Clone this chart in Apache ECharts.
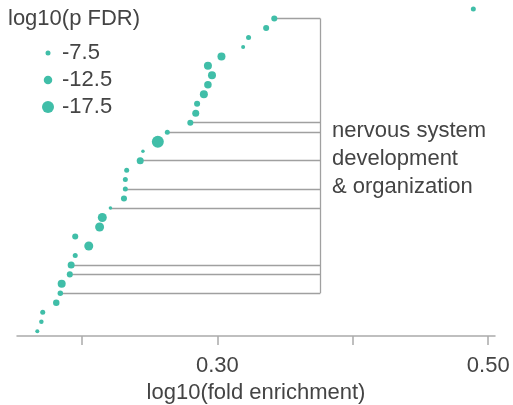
<!DOCTYPE html>
<html>
<head>
<meta charset="utf-8">
<script src="https://cdn.jsdelivr.net/npm/echarts@6/dist/echarts.min.js"></script>
<style>
  html, body { margin: 0; padding: 0; background: #fff; }
  #chart { width: 513px; height: 405px; }
</style>
</head>
<body>
<div id="chart"></div>
<script>
// terms ranked top to bottom
var ranks = [];
for (var i = 1; i <= 35; i++) ranks.push(i);
// log10(fold enrichment)
var foldEnrich = [0.489, 0.342, 0.336, 0.323, 0.319, 0.303, 0.293, 0.296, 0.293, 0.290,
    0.285, 0.284, 0.280, 0.263, 0.256, 0.245, 0.243, 0.233, 0.232, 0.232,
    0.231, 0.221, 0.215, 0.213, 0.195, 0.205, 0.195, 0.192, 0.191, 0.185,
    0.184, 0.181, 0.171, 0.170, 0.167];
// log10(p FDR)
var logFdr = [-7.5, -9.0, -9.0, -7.5, -6.1, -11.8, -11.8, -11.8, -11.1, -11.8,
    -9.0, -10.4, -9.0, -7.5, -17.5, -5.4, -10.4, -7.5, -7.5, -7.5,
    -9.0, -5.4, -13.2, -13.2, -9.0, -13.2, -7.5, -10.4, -9.0, -11.8,
    -8.2, -9.6, -7.5, -6.8, -6.1];
var legendValues = [-7.5, -12.5, -17.5];
// terms belonging to "nervous system development & organization"
var groupRanks = [2, 13, 14, 17, 20, 22, 28, 29, 31];
var groupLabel = 'nervous system\ndevelopment\n& organization';
var bracketX = 0.376;
var xTicks = [0.2, 0.3, 0.4, 0.5];
var xLabels = [0.3, 0.5];

var teal = '#40bea8';
var font = '"Liberation Sans", Arial, sans-serif';

function sizeOf(v) {
    return 5 + 0.7 * (-7.5 - v);
}

var points = ranks.map(function (r, i) {
    return [foldEnrich[i], r, logFdr[i]];
});

var connectors = groupRanks.map(function (r) {
    return {coords: [[foldEnrich[r - 1], r], [bracketX, r]]};
});
connectors.push({coords: [[bracketX, groupRanks[0]], [bracketX, groupRanks[groupRanks.length - 1]]]});

var legendGraphics = [{
    type: 'text', left: 8, top: 8,
    style: {text: 'log10(p FDR)', font: '22px ' + font, fill: '#444'}
}];
legendValues.forEach(function (v, i) {
    var cy = 53 + i * 27;
    legendGraphics.push({
        type: 'circle', shape: {cx: 48, cy: cy, r: sizeOf(v) / 2},
        style: {fill: teal}
    });
    legendGraphics.push({
        type: 'text', x: 62, y: cy,
        style: {text: String(v), font: '22px ' + font, fill: '#444', verticalAlign: 'middle'}
    });
});
legendGraphics.push({
    type: 'text', x: 332, y: 117,
    style: {text: groupLabel, font: '22px ' + font, fill: '#444', lineHeight: 28}
});

var chart = echarts.init(document.getElementById('chart'));
chart.setOption({
    animation: false,
    grid: {left: 17, right: 18, top: 9, bottom: 69, containLabel: false, outerBoundsMode: 'none'},
    xAxis: {
        type: 'value', min: 0.152, max: 0.505,
        name: 'log10(fold enrichment)', nameLocation: 'middle', nameGap: 35,
        nameTextStyle: {fontSize: 22, color: '#444', fontFamily: font},
        axisLine: {lineStyle: {color: '#aaa', width: 1.5}},
        axisTick: {show: true, customValues: xTicks, length: 9, lineStyle: {color: '#aaa', width: 1.5}},
        axisLabel: {
            customValues: xLabels, margin: 19, fontSize: 22, color: '#444', fontFamily: font,
            formatter: function (v) { return v.toFixed(2); }
        },
        splitLine: {show: false}
    },
    yAxis: {
        type: 'value', min: 1, max: 35.5, inverse: true, show: false
    },
    series: [{
        type: 'lines',
        coordinateSystem: 'cartesian2d',
        z: 1,
        silent: true,
        lineStyle: {color: '#a0a0a0', width: 1.3, opacity: 1},
        data: connectors
    }, {
        type: 'scatter',
        z: 2,
        clip: false,
        data: points,
        symbolSize: function (val) { return sizeOf(val[2]); },
        itemStyle: {color: teal, opacity: 1}
    }],
    graphic: legendGraphics
});
</script>
</body>
</html>
